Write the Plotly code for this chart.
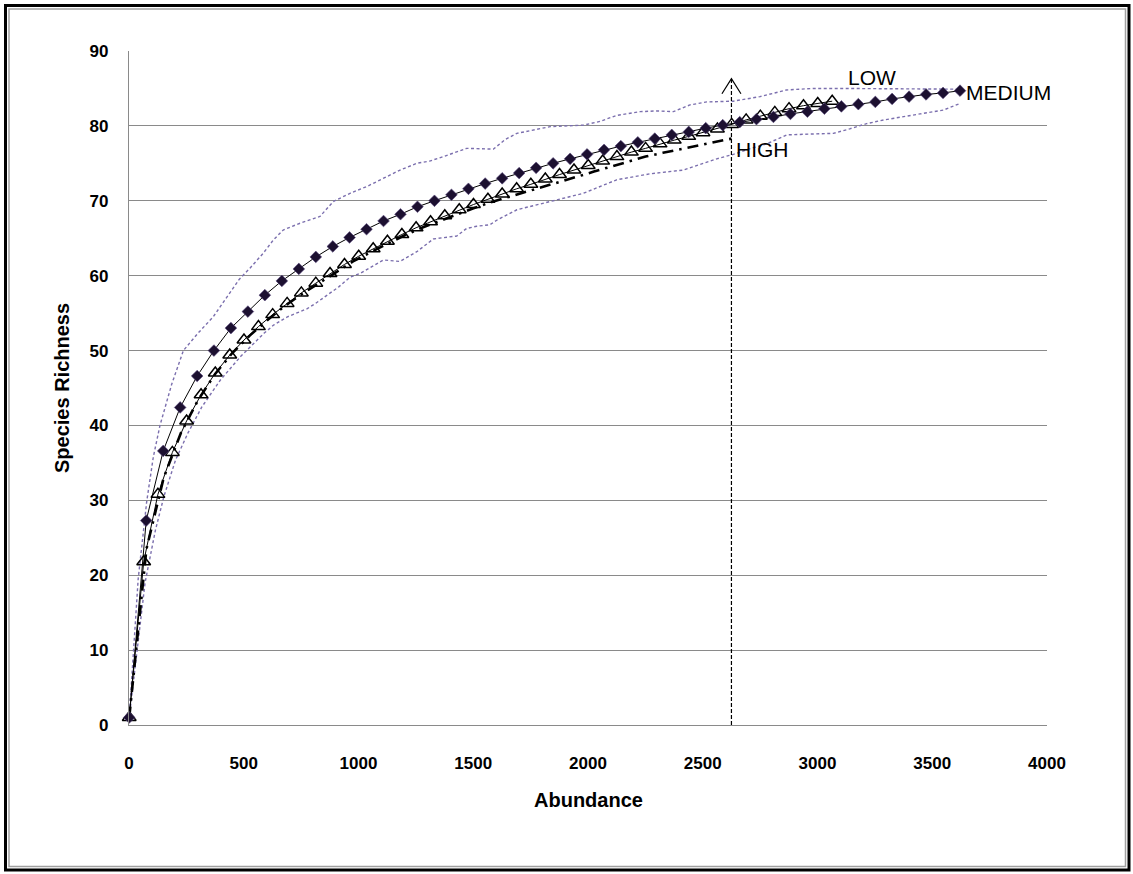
import plotly.graph_objects as go

# ---- species accumulation data (abundance vs. species richness) ----
medium_abundance = [1, 75, 149, 223, 297, 370, 444, 518, 592, 666, 740, 814, 888, 961, 1035,
                    1109, 1183, 1257, 1331, 1405, 1479, 1552, 1626, 1700, 1774, 1848, 1922,
                    1996, 2070, 2143, 2217, 2291, 2365, 2439, 2513, 2587, 2661, 2734, 2808,
                    2882, 2956, 3030, 3104, 3178, 3252, 3325, 3399, 3473, 3547, 3621]
medium_richness = [1.0, 27.3, 36.6, 42.4, 46.6, 50.0, 53.0, 55.2, 57.4, 59.3, 60.9, 62.5, 63.9,
                   65.1, 66.2, 67.3, 68.2, 69.2, 70.0, 70.8, 71.6, 72.3, 73.0, 73.7, 74.4, 75.0,
                   75.6, 76.2, 76.8, 77.3, 77.8, 78.3, 78.8, 79.2, 79.7, 80.1, 80.5, 80.9, 81.2,
                   81.6, 81.9, 82.3, 82.6, 82.9, 83.2, 83.6, 83.9, 84.2, 84.4, 84.7]

low_abundance = [1, 64, 126, 189, 251, 314, 376, 439, 501, 564, 626, 689, 751, 814, 876, 939,
                 1001, 1064, 1126, 1189, 1251, 1314, 1376, 1439, 1501, 1564, 1626, 1689, 1751,
                 1814, 1876, 1939, 2001, 2064, 2126, 2189, 2251, 2314, 2376, 2439, 2501, 2564,
                 2626, 2689, 2751, 2814, 2876, 2939, 3001, 3064]
low_richness = [1.0, 21.8, 30.8, 36.4, 40.6, 44.1, 47.0, 49.4, 51.4, 53.2, 54.8, 56.3, 57.7,
                59.0, 60.3, 61.5, 62.6, 63.6, 64.6, 65.5, 66.4, 67.2, 68.0, 68.8, 69.5, 70.2,
                70.9, 71.6, 72.2, 72.9, 73.5, 74.1, 74.7, 75.3, 75.9, 76.5, 77.0, 77.6, 78.1,
                78.6, 79.1, 79.6, 80.2, 80.8, 81.3, 81.8, 82.3, 82.7, 83.0, 83.3]

high_abundance = [1, 76, 151, 226, 301, 376, 451, 526, 601, 676, 751, 826, 901, 976, 1051,
                  1126, 1201, 1276, 1351, 1426, 1501, 1576, 1651, 1726, 1801, 1876, 1951,
                  2026, 2101, 2176, 2251, 2326, 2401, 2476, 2551, 2625]
high_richness = [1.0, 23.5, 33.0, 39.0, 43.4, 46.9, 49.7, 52.0, 54.0, 55.9, 57.5, 59.0, 60.5,
                 61.9, 63.1, 64.3, 65.4, 66.4, 67.3, 68.2, 69.0, 69.8, 70.5, 71.2, 71.8, 72.5,
                 73.2, 73.9, 74.6, 75.3, 75.9, 76.4, 76.9, 77.4, 77.9, 78.3]

# 95% confidence limits of the MEDIUM curve
ci_upper_abundance = [1, 40, 77, 106, 135, 186, 237, 300, 367, 430, 480, 527, 585, 630, 672,
                      745, 832, 890, 963, 1036, 1108, 1181, 1254, 1310, 1370, 1471, 1588, 1640,
                      1690, 1835, 1980, 2052, 2125, 2227, 2300, 2372, 2444, 2518, 2633, 2749,
                      2865, 2981, 3100, 3214, 3350, 3505, 3621]
ci_upper_richness = [1.0, 19.5, 29.8, 35.8, 40.0, 45.5, 50.0, 52.3, 54.5, 57.3, 59.5, 61.0,
                     63.0, 64.8, 66.1, 67.0, 67.9, 69.9, 71.0, 71.9, 73.0, 74.1, 75.0, 75.3,
                     75.9, 77.0, 76.9, 78.2, 79.0, 79.9, 80.1, 80.6, 81.4, 81.9, 82.0, 81.9,
                     82.8, 83.2, 83.3, 83.9, 84.8, 85.0, 85.0, 85.0, 85.0, 85.0, 84.9]
ci_lower_abundance = [1, 70, 115, 152, 203, 257, 318, 399, 486, 527, 588, 630, 690, 777, 813,
                      914, 963, 1007, 1108, 1181, 1254, 1326, 1428, 1471, 1515, 1573, 1602,
                      1690, 1835, 1980, 2125, 2270, 2415, 2490, 2561, 2633, 2700, 2778, 2866,
                      2960, 3069, 3140, 3214, 3290, 3360, 3447, 3548, 3621]
ci_lower_richness = [1.0, 19.0, 26.0, 30.5, 35.4, 39.0, 42.5, 46.1, 49.2, 50.5, 52.3, 53.4,
                     54.5, 55.6, 56.3, 58.5, 59.8, 60.3, 62.1, 61.9, 63.2, 64.9, 65.3, 66.3,
                     66.6, 66.8, 67.4, 68.8, 69.9, 71.0, 72.8, 73.6, 74.1, 74.9, 75.6, 76.2,
                     76.9, 77.6, 78.8, 78.9, 79.0, 79.6, 80.3, 80.8, 81.2, 81.6, 82.1, 83.0]

# abundance at which the curves are compared (total of the HIGH sample)
comparison_abundance = 2625
comparison_top = 86.3

x_ticks = [0, 500, 1000, 1500, 2000, 2500, 3000, 3500, 4000]
y_ticks = [0, 10, 20, 30, 40, 50, 60, 70, 80, 90]

# ---- layout geometry (pixels) ----
W, H = 1133, 874
ML, MR, MT, MB = 129, 86, 51, 149
PW, PH = W - ML - MR, H - MT - MB
X_RANGE, Y_RANGE = (0, 4000), (0, 90)
px_per_x = PW / (X_RANGE[1] - X_RANGE[0])
px_per_y = PH / (Y_RANGE[1] - Y_RANGE[0])

def paper_x(px):
    return (px - ML) / PW

def paper_y(py):
    return (H - MB - py) / PH

FONT = "Liberation Sans, Arial, sans-serif"
CI_COLOR = "#7b6fae"
GRID = "#8a8a8a"

fig = go.Figure()

for xs, ys in [(ci_upper_abundance, ci_upper_richness), (ci_lower_abundance, ci_lower_richness)]:
    fig.add_trace(go.Scatter(x=xs, y=ys, mode="lines",
                             line=dict(color=CI_COLOR, width=1.4, dash="3px,2.5px"),
                             hoverinfo="skip"))

fig.add_trace(go.Scatter(x=high_abundance, y=high_richness, mode="lines", name="HIGH",
                         line=dict(color="black", width=2.6, dash="11px,6px,2.5px,6px")))

fig.add_trace(go.Scatter(x=low_abundance, y=low_richness, mode="lines+markers", name="LOW",
                         line=dict(color="black", width=1),
                         marker=dict(symbol="triangle-up-open", size=12, color="black",
                                     line=dict(width=1.5)),
                         cliponaxis=False))

fig.add_trace(go.Scatter(x=medium_abundance, y=medium_richness, mode="lines+markers",
                         name="MEDIUM", line=dict(color="black", width=1),
                         marker=dict(symbol="diamond", size=9, color="#1c1030",
                                     line=dict(width=0.6, color="#5a4a80")),
                         cliponaxis=False))

# dashed comparison line with an open arrow head
fig.add_trace(go.Scatter(x=[comparison_abundance, comparison_abundance], y=[0, comparison_top],
                         mode="lines", line=dict(color="black", width=1.2, dash="4px,2px"),
                         hoverinfo="skip"))
wing_dx = 9.5 / px_per_x
wing_dy = 15 / px_per_y
fig.add_trace(go.Scatter(x=[comparison_abundance - wing_dx, comparison_abundance,
                            comparison_abundance + wing_dx],
                         y=[comparison_top - wing_dy, comparison_top, comparison_top - wing_dy],
                         mode="lines", line=dict(color="black", width=1.2),
                         cliponaxis=False, hoverinfo="skip"))

label_font = dict(family=FONT, size=21, color="black")
fig.add_annotation(x=3237, y=86.4, text="LOW", showarrow=False, font=label_font,
                   xanchor="center", yanchor="middle")
fig.add_annotation(x=3640, y=84.5, text="MEDIUM", showarrow=False, font=label_font,
                   xanchor="left", yanchor="middle")
fig.add_annotation(x=2636, y=76.8, text="HIGH", showarrow=False, font=label_font,
                   xanchor="left", yanchor="middle")

title_font = dict(family=FONT, size=20, color="black")
fig.add_annotation(xref="paper", yref="paper", x=paper_x(62), y=0.5, text="<b>Species Richness</b>",
                   textangle=-90, showarrow=False, font=title_font,
                   xanchor="center", yanchor="middle")
fig.add_annotation(xref="paper", yref="paper", x=0.5, y=paper_y(800), text="<b>Abundance</b>",
                   showarrow=False, font=title_font, xanchor="center", yanchor="middle")

# double frame around the whole figure
fig.add_shape(type="rect", xref="paper", yref="paper",
              x0=paper_x(5.5), x1=paper_x(1129), y0=paper_y(870), y1=paper_y(5.5),
              line=dict(color="black", width=3), layer="above")
fig.add_shape(type="rect", xref="paper", yref="paper",
              x0=paper_x(9), x1=paper_x(1125.5), y0=paper_y(866.5), y1=paper_y(9),
              line=dict(color="#a0a0a0", width=1.5), layer="above")

tick_font = dict(family=FONT, size=17, color="black")
fig.update_layout(
    width=W, height=H, autosize=False,
    margin=dict(l=ML, r=MR, t=MT, b=MB, pad=0),
    paper_bgcolor="white", plot_bgcolor="white",
    showlegend=False,
    xaxis=dict(range=list(X_RANGE), tickvals=x_ticks, ticktext=[f"<b>{v}</b>" for v in x_ticks],
               showgrid=False, zeroline=False, showline=True, linecolor=GRID, linewidth=1.3,
               ticks="", tickfont=tick_font, ticklabelstandoff=22),
    yaxis=dict(range=list(Y_RANGE), tickvals=y_ticks, ticktext=[f"<b>{v}</b>" for v in y_ticks],
               showgrid=True, gridcolor=GRID, gridwidth=1.3, zeroline=False,
               showline=True, linecolor=GRID, linewidth=1.3,
               ticks="", tickfont=tick_font, ticklabelstandoff=16),
)

fig.write_html("out.html")
